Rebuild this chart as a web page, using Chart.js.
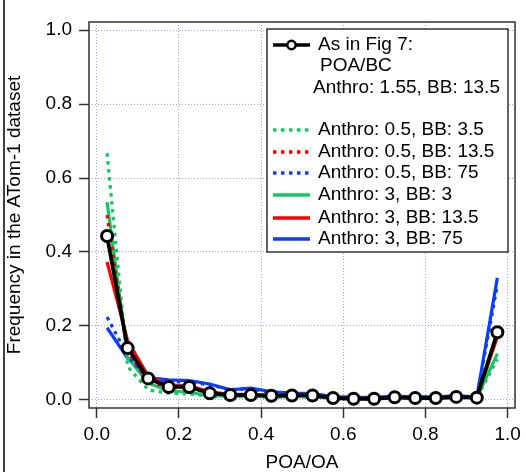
<!DOCTYPE html>
<html>
<head>
<meta charset="utf-8">
<script src="https://cdn.jsdelivr.net/npm/chart.js@4"></script>
<style>
  html, body { margin: 0; padding: 0; background: #fff; }
  canvas { display: block; }
</style>
</head>
<body>
<canvas id="poaChart" width="526" height="475"></canvas>
<script>
// bin centres on the POA/OA axis
const binCenters = [0.025, 0.075, 0.125, 0.175, 0.225, 0.275, 0.325, 0.375, 0.425, 0.475,
                    0.525, 0.575, 0.625, 0.675, 0.725, 0.775, 0.825, 0.875, 0.925, 0.975];

const fig7     = [0.443, 0.14, 0.058, 0.035, 0.035, 0.018, 0.013, 0.013, 0.011, 0.012, 0.012, 0.005, 0.003, 0.003, 0.007, 0.005, 0.005, 0.008, 0.006, 0.183];
const a05bb35  = [0.667, 0.09, 0.027, 0.018, 0.016, 0.010, 0.009, 0.009, 0.007, 0.008, 0.008, 0.004, 0.003, 0.003, 0.006, 0.004, 0.004, 0.006, 0.005, 0.11];
const a05bb135 = [0.50, 0.13, 0.05, 0.033, 0.033, 0.020, 0.014, 0.014, 0.011, 0.012, 0.012, 0.005, 0.003, 0.003, 0.007, 0.005, 0.005, 0.008, 0.006, 0.18];
const a05bb75  = [0.224, 0.12, 0.055, 0.05, 0.048, 0.040, 0.028, 0.030, 0.020, 0.017, 0.016, 0.008, 0.006, 0.006, 0.009, 0.007, 0.007, 0.010, 0.007, 0.31];
const a3bb3    = [0.535, 0.115, 0.045, 0.025, 0.020, 0.012, 0.010, 0.010, 0.008, 0.009, 0.009, 0.004, 0.003, 0.003, 0.006, 0.004, 0.004, 0.007, 0.005, 0.125];
const a3bb135  = [0.373, 0.16, 0.065, 0.04, 0.038, 0.022, 0.015, 0.015, 0.012, 0.013, 0.013, 0.006, 0.004, 0.004, 0.008, 0.006, 0.006, 0.009, 0.007, 0.17];
const a3bb75   = [0.195, 0.113, 0.06, 0.054, 0.052, 0.043, 0.027, 0.032, 0.022, 0.018, 0.017, 0.009, 0.007, 0.007, 0.010, 0.008, 0.008, 0.011, 0.008, 0.33];

const tickValues = [0, 0.2, 0.4, 0.6, 0.8, 1.0];

const GREEN = '#12c866';
const RED = '#ff0000';
const BLUE = '#0a3cff';
const FONT = '"Liberation Sans", Arial, Helvetica, sans-serif';

const pts = (arr) => arr.map((v, i) => ({ x: binCenters[i], y: v }));

const line = (label, data, color, dotted) => ({
    label,
    data: pts(data),
    borderColor: color,
    backgroundColor: color,
    borderWidth: 3.2,
    borderDash: dotted ? [3.5, 4.5] : [],
    pointRadius: 0,
    tension: 0,
    fill: false
});

const datasets = [
    {
        label: 'As in Fig 7',
        data: pts(fig7),
        borderColor: '#000',
        borderWidth: 3.8,
        pointRadius: 5.5,
        pointBorderWidth: 3,
        pointBackgroundColor: '#fff',
        pointBorderColor: '#000',
        tension: 0,
        fill: false
    },
    line('Anthro: 0.5, BB: 3.5', a05bb35, GREEN, true),
    line('Anthro: 0.5, BB: 13.5', a05bb135, RED, true),
    line('Anthro: 0.5, BB: 75', a05bb75, BLUE, true),
    line('Anthro: 3, BB: 3', a3bb3, GREEN, false),
    line('Anthro: 3, BB: 13.5', a3bb135, RED, false),
    line('Anthro: 3, BB: 75', a3bb75, BLUE, false)
];

// frame box + panel line on the left
const framePlugin = {
    id: 'frame',
    afterDraw(chart) {
        const { ctx, chartArea: a } = chart;
        ctx.save();
        ctx.strokeStyle = '#333';
        ctx.lineWidth = 1.5;
        ctx.strokeRect(a.left, a.top, a.right - a.left, a.bottom - a.top);
        ctx.strokeStyle = '#000';
        ctx.lineWidth = 1.5;
        ctx.beginPath();
        ctx.moveTo(4, 0);
        ctx.lineTo(4, 472);
        ctx.stroke();
        ctx.restore();
    }
};

// Igor-style boxed legend
const boxLegend = {
    id: 'boxLegend',
    afterDraw(chart) {
        const { ctx } = chart;
        const ds = chart.data.datasets;
        ctx.save();
        ctx.fillStyle = '#fff';
        ctx.fillRect(267, 29, 241, 223);
        ctx.strokeStyle = '#000';
        ctx.lineWidth = 1.2;
        ctx.strokeRect(267, 29, 241, 223);

        ctx.font = '19px ' + FONT;
        ctx.textBaseline = 'middle';
        ctx.textAlign = 'left';
        ctx.fillStyle = '#000';

        // black entry
        ctx.strokeStyle = '#000';
        ctx.lineWidth = 3.5;
        ctx.setLineDash([]);
        ctx.beginPath();
        ctx.moveTo(273, 45);
        ctx.lineTo(310, 45);
        ctx.stroke();
        ctx.beginPath();
        ctx.arc(291.5, 45, 4.2, 0, Math.PI * 2);
        ctx.fillStyle = '#fff';
        ctx.fill();
        ctx.lineWidth = 2.5;
        ctx.stroke();
        ctx.fillStyle = '#000';
        ctx.fillText('As in Fig 7:', 318, 45);
        ctx.fillText('POA/BC', 320, 66);
        ctx.fillText('Anthro: 1.55, BB: 13.5', 313, 88);

        const rows = [130, 152, 173, 195, 218, 239];
        for (let i = 1; i < ds.length; i++) {
            const y = rows[i - 1];
            ctx.strokeStyle = ds[i].borderColor;
            ctx.lineWidth = 3.5;
            ctx.setLineDash(ds[i].borderDash);
            ctx.beginPath();
            ctx.moveTo(273, y);
            ctx.lineTo(310, y);
            ctx.stroke();
            ctx.setLineDash([]);
            ctx.fillStyle = '#000';
            ctx.fillText(ds[i].label, 318, y);
        }
        ctx.restore();
    }
};

const onlyNiceTicks = (scale) => {
    scale.ticks = tickValues.map(v => ({ value: v }));
};

new Chart(document.getElementById('poaChart'), {
    type: 'line',
    data: { datasets },
    options: {
        responsive: false,
        animation: false,
        layout: { padding: { top: 22, right: 9, left: 0, bottom: 0 } },
        plugins: { legend: { display: false }, tooltip: { enabled: false } },
        scales: {
            x: {
                type: 'linear',
                min: -0.019,
                max: 1.018,
                afterBuildTicks: onlyNiceTicks,
                afterFit: (s) => { s.height = 67; },
                grid: {
                    color: 'rgba(110,110,255,0.7)',
                    lineWidth: 1,
                    tickLength: 10,
                    tickColor: '#333',
                    tickWidth: 1.5,
                    tickBorderDash: []
                },
                border: { display: false, dash: [1, 2] },
                ticks: {
                    padding: 5,
                    color: '#000',
                    font: { family: FONT, size: 19 },
                    maxRotation: 0,
                    callback: (v) => v.toFixed(1)
                },
                title: {
                    display: true,
                    text: 'POA/OA',
                    color: '#000',
                    font: { family: FONT, size: 19 },
                    padding: { top: 0, bottom: 1 }
                }
            },
            y: {
                min: -0.022,
                max: 1.022,
                afterBuildTicks: onlyNiceTicks,
                afterFit: (s) => { s.width = 89; },
                grid: {
                    color: 'rgba(110,110,255,0.7)',
                    lineWidth: 1,
                    tickLength: 10,
                    tickColor: '#333',
                    tickWidth: 1.5,
                    tickBorderDash: []
                },
                border: { display: false, dash: [1, 2] },
                ticks: {
                    padding: 7,
                    color: '#000',
                    font: { family: FONT, size: 19 },
                    callback: (v) => v.toFixed(1)
                },
                title: {
                    display: true,
                    text: 'Frequency in the ATom-1 dataset',
                    color: '#000',
                    font: { family: FONT, size: 19 },
                    padding: { top: 3, bottom: 0 }
                }
            }
        }
    },
    plugins: [framePlugin, boxLegend]
});
</script>
</body>
</html>
